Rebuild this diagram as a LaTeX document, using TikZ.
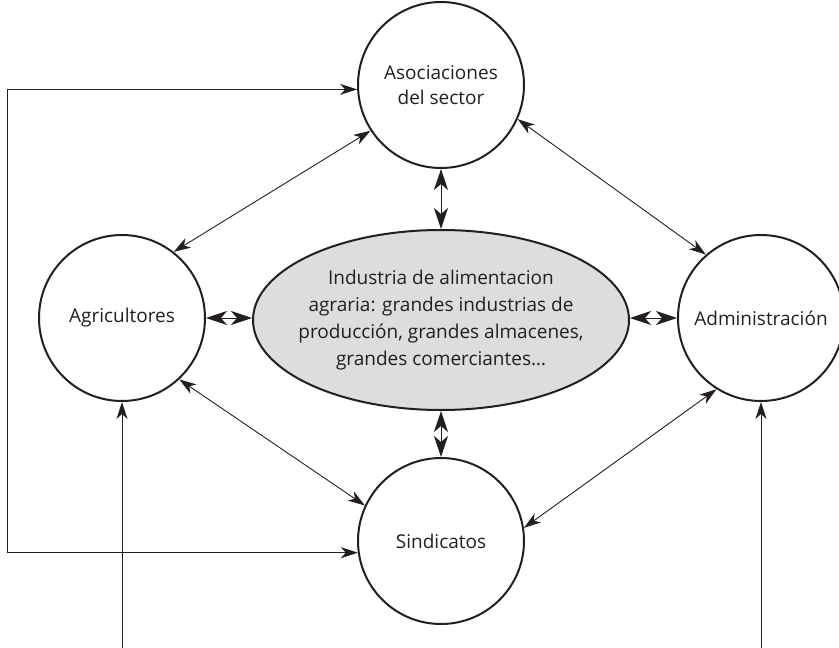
\documentclass[tikz,border=0pt]{standalone}
\usepackage{fontspec}
\setmainfont{Open Sans}
\usetikzlibrary{arrows.meta,shapes.geometric}
\definecolor{fondind}{HTML}{DCDDDE}
\definecolor{trait}{HTML}{231F20}
\begin{document}
\begin{tikzpicture}[x=1pt,y=-1pt,
  acteur/.style={circle,draw=trait,line width=2pt,minimum size=166pt,inner sep=0pt,align=center,text=trait,font=\fontsize{19}{25}\selectfont},
  lien/.style={draw=trait,line width=0.9pt,{Stealth[length=17pt,width=11pt,inset=5pt]}-{Stealth[length=17pt,width=11pt,inset=5pt]}},
  court/.style={draw=trait,line width=0.9pt,{Stealth[length=21pt,width=14pt,inset=6pt]}-{Stealth[length=21pt,width=14pt,inset=6pt]}},
  retour/.style={draw=trait,line width=0.9pt,-{Stealth[length=17pt,width=11pt,inset=5pt]}}]
\useasboundingbox (0,0) rectangle (839,648);
% les acteurs
\node[acteur] (asoc) at (441,85) {Asociaciones\\del sector};
\node[acteur] (agri) at (122,318) {Agricultores};
\node[acteur] (admin) at (761,318) {Administración};
\node[acteur] (sind) at (441,541) {Sindicatos};
\node[ellipse,draw=trait,fill=fondind,line width=2pt,minimum width=376pt,minimum height=180pt,inner xsep=-16pt,inner ysep=0pt,align=center,text=trait,font=\fontsize{19}{27}\selectfont] (ind) at (441,320)
  {Industria de alimentacion\\agraria: grandes industrias de\\producción, grandes almacenes,\\grandes comerciantes…};
% fleches courtes autour de l'ellipse
\draw[court] (agri.east) -- (agri.east -| ind.west);
\draw[court] (ind.east |- admin.west) -- (admin.west);
\draw[court] (asoc) -- (ind);
\draw[court] (ind) -- (sind);
% liens entre acteurs
\draw[lien] (asoc.213) -- (agri.52);
\draw[lien] (asoc.336) -- (admin.131);
\draw[lien] (agri.313) -- (sind.155);
\draw[lien] (admin.238) -- (sind.9);
% boucle de gauche
\coordinate (gauche) at (7,0);
\draw[lien] (asoc.183) -- (asoc.183 -| gauche) -- (sind.188 -| gauche) -- (sind.188);
% entrees par le bas
\coordinate (agribas) at (122,648);
\coordinate (adminbas) at (761,648);
\draw[retour] (agribas) -- (agri.south);
\draw[retour] (adminbas) -- (admin.south);
\end{tikzpicture}
\end{document}
